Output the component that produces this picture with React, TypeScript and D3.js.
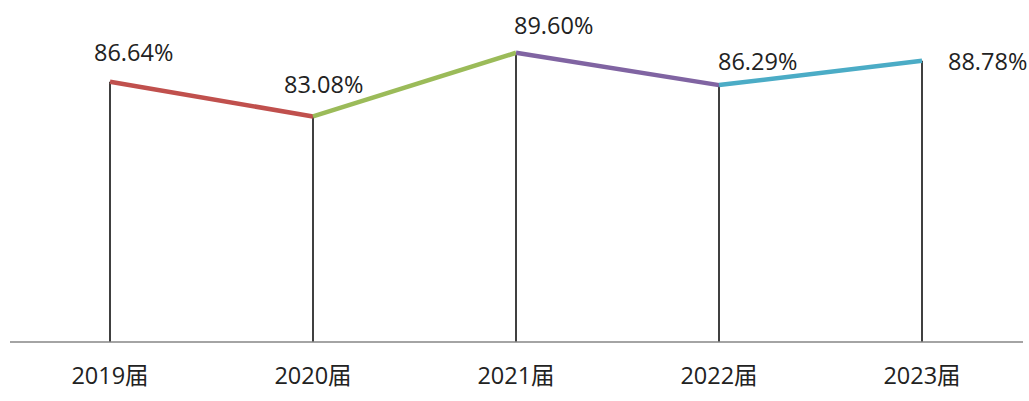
import React from "react";
import * as d3 from "d3";

const categories = ["2019届", "2020届", "2021届", "2022届", "2023届"];
const values = [86.64, 83.08, 89.6, 86.29, 88.78];
const segmentColors = ["#C0504D", "#9BBB59", "#8064A2", "#4BACC6"];

// label placement offsets (layout only): left edge dx and baseline dy relative to point
const labelDx = [-16, -29, -2, -1, 26];
const labelDy = [-21, -23, -19, -15, 9];

const W = 1029;
const H = 401;

export default function App() {
  const x = d3.scalePoint<string>().domain(categories).range([8.5, 1023.5]).padding(0.5);
  const y = d3.scaleLinear().domain([60, 95]).range([342, 0]);
  const pts = categories.map((c, i) => [x(c) as number, y(values[i])] as [number, number]);
  const fmt = (v: number) => v.toFixed(2) + "%";
  const font = "'Open Sans', 'Noto Sans CJK SC', sans-serif";
  return (
    <svg
      width={W}
      height={H}
      style={{ position: "absolute", left: 0, top: 0, background: "#fff" }}
    >
      {pts.map((p, i) => (
        <line key={"d" + i} x1={p[0]} x2={p[0]} y1={p[1]} y2={y(60)} stroke="#000" strokeWidth={1.5} />
      ))}
      <line x1={10} x2={1023} y1={y(60)} y2={y(60)} stroke="#868686" strokeWidth={1.5} />
      {pts.slice(0, -1).map((p, i) => (
        <path
          key={"s" + i}
          d={d3.line()([p, pts[i + 1]]) as string}
          stroke={segmentColors[i]}
          strokeWidth={4.5}
          strokeLinecap="butt"
          fill="none"
        />
      ))}
      {pts.map((p, i) => (
        <text
          key={"l" + i}
          x={p[0] + labelDx[i]}
          y={p[1] + labelDy[i]}
          fontFamily={font}
          fontSize={23.5}
          fill="#222"
        >
          {fmt(values[i])}
        </text>
      ))}
      {categories.map((c) => (
        <text
          key={c}
          x={x(c) as number}
          y={384}
          textAnchor="middle"
          fontFamily={font}
          fontSize={23.5}
          fill="#222"
        >
          {c}
        </text>
      ))}
    </svg>
  );
}
